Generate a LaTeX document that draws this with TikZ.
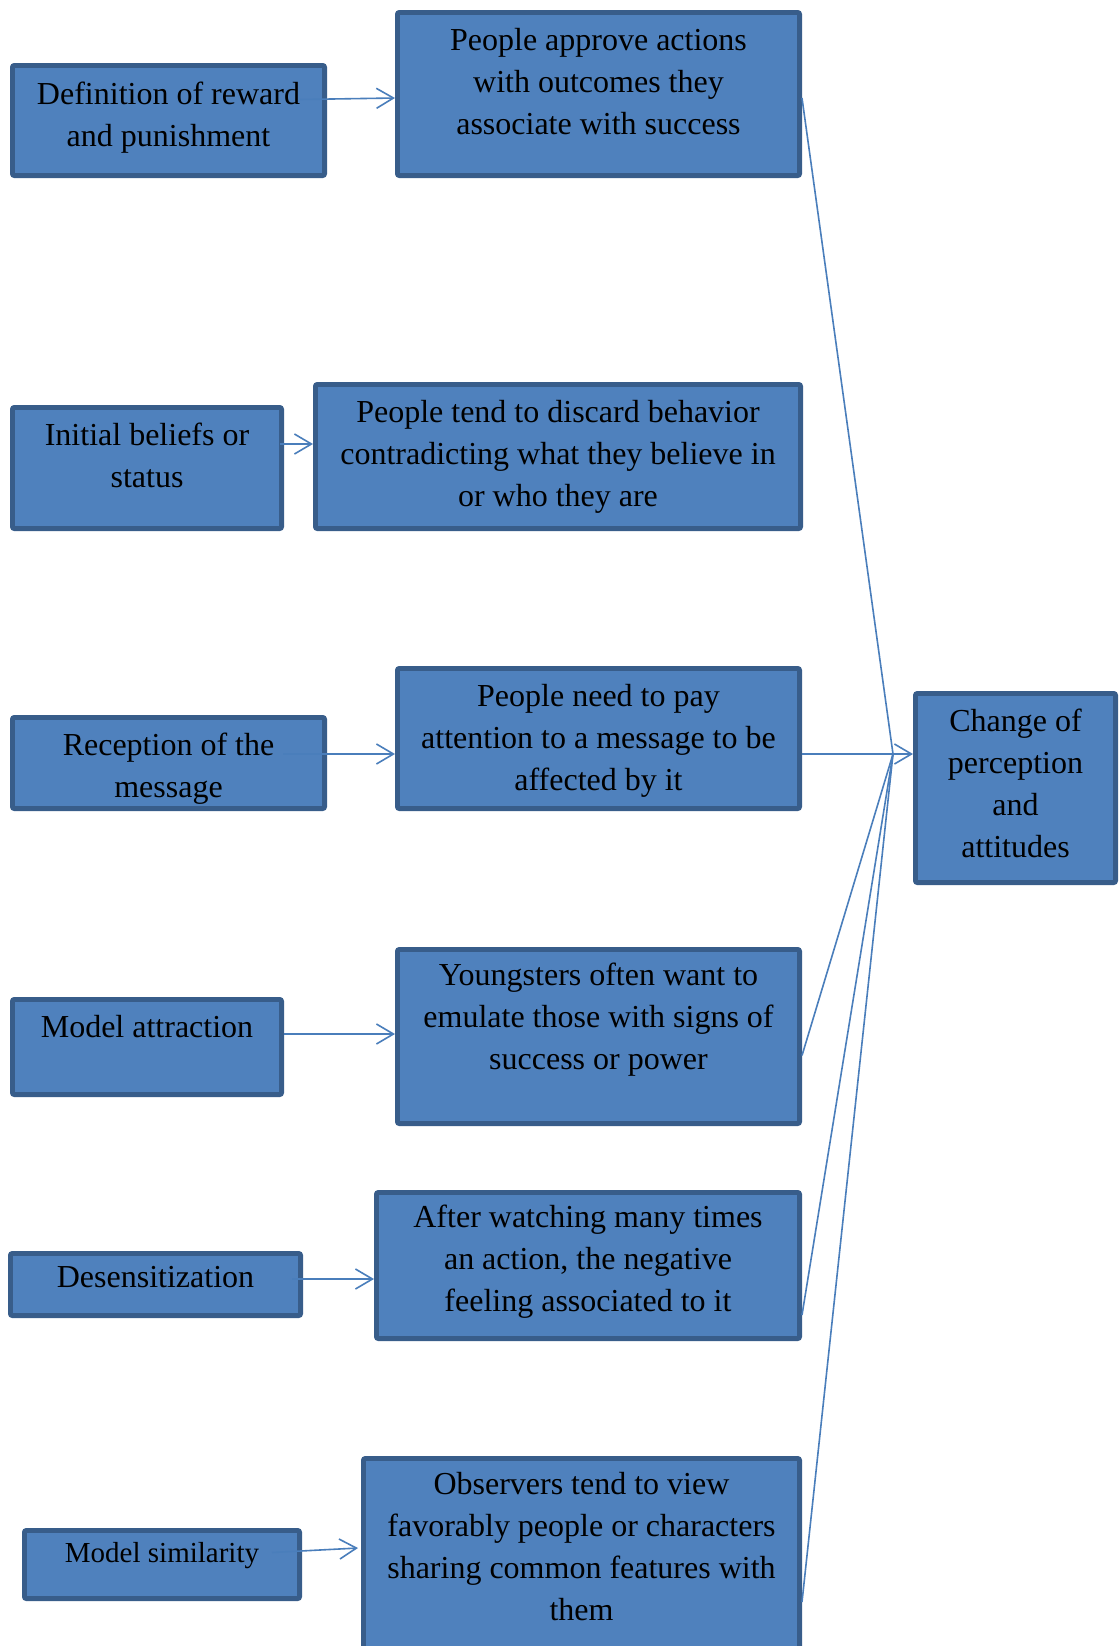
\documentclass[tikz,border=0pt]{standalone}
\usepackage{fontspec}
\setmainfont{Liberation Serif}
\usetikzlibrary{arrows.meta,calc}
\definecolor{boxfill}{HTML}{4F81BD}
\definecolor{boxline}{HTML}{385D8A}
\definecolor{linkc}{HTML}{4A7EBB}
\begin{document}
\begin{tikzpicture}[x=0.75pt,y=-0.75pt,
  box/.style={draw=boxline, fill=boxfill, line width=3.6pt, rounded corners=1.5pt, inner sep=0pt, outer sep=1.8pt},
  txt/.style={font=\fontsize{24}{31.5}\selectfont, align=center, inner sep=0pt, anchor=north, text=black},
  smalltxt/.style={txt, font=\fontsize{21.75}{28.5}\selectfont},
  link/.style={draw=linkc, line width=1.2pt},
  arr/.style={link, -{Straight Barb[length=12.75pt,width=15pt]}}]
\clip (0,0) rectangle (1118,1646);
\fill[white] (0,0) rectangle (1118,1646);

% boxes
\node[box, minimum width=234.15pt, minimum height=82.65pt]  (b1)  at (168.5,120.5) {};
\node[box, minimum width=301.65pt, minimum height=122.4pt]  (b2)  at (598.5,94) {};
\node[box, minimum width=201.9pt,  minimum height=90.9pt]   (b3)  at (147,468) {};
\node[box, minimum width=363.9pt,  minimum height=108.15pt] (b4)  at (558,456.5) {};
\node[box, minimum width=234.15pt, minimum height=68.4pt]   (b5)  at (168.5,763) {};
\node[box, minimum width=301.65pt, minimum height=105.15pt] (b6)  at (598.5,738.5) {};
\node[box, minimum width=201.9pt,  minimum height=71.4pt]   (b7)  at (147,1047) {};
\node[box, minimum width=301.65pt, minimum height=130.65pt] (b8)  at (598.5,1036.5) {};
\node[box, minimum width=217.65pt, minimum height=46.65pt]  (b9)  at (155.5,1284.5) {};
\node[box, minimum width=317.4pt,  minimum height=109.65pt] (b10) at (588,1265.5) {};
\node[box, minimum width=206.4pt,  minimum height=51.15pt]  (b11) at (162,1564.5) {};
\node[box, minimum width=327.15pt, minimum height=164.4pt]  (b12) at (581.5,1568) {};
\node[box, minimum width=150.15pt, minimum height=141.9pt]  (b13) at (1015.5,788) {};

% texts
\node[txt] (t1)  at (168.5,82)   {Definition of reward\\and punishment};
\node[txt] (t2)  at (598.5,28.5) {People approve actions\\with outcomes they\\associate with success};
\node[txt] (t3)  at (147,423)    {Initial beliefs or\\status};
\node[txt] (t4)  at (558,400)    {People tend to discard behavior\\contradicting what they believe in\\or who they are};
\node[txt] (t5)  at (168.5,733)  {Reception of the\\message};
\node[txt] (t6)  at (598.5,684.5){People need to pay\\attention to a message to be\\affected by it};
\node[txt] (t7)  at (147,1015)   {Model attraction};
\node[txt] (t8)  at (598.5,962.7){Youngsters often want to\\emulate those with signs of\\success or power};
\node[txt] (t9)  at (155.5,1266) {Desensitization};
\node[txt] (t10) at (588,1205)   {After watching many times\\an action, the negative\\feeling associated to it};
\node[smalltxt] (t11) at (162,1542) {Model similarity};
\node[txt] (t12) at (581.5,1472) {Observers tend to view\\favorably people or characters\\sharing common features with\\them};
\node[txt] (t13) at (1015.5,709) {Change of\\perception\\and\\attitudes};

% left arrows
\draw[arr] ($(b1.east)+(-27,-21)$)  -- ($(b2.west)+(0,4)$);
\draw[arr] ($(b3.east)+(-4,-24)$)   -- ($(b4.west)+(0,-12.5)$);
\draw[arr] ($(b5.east)+(-44,-9)$)   -- ($(b6.west)+(0,15.5)$);
\draw[arr] ($(b7.east)+(0,-13)$)    -- ($(b8.west)+(0,-2.5)$);
\draw[arr] ($(b9.east)+(-11,-5.5)$) -- ($(b10.west)+(0,13.5)$);
\draw[arr] ($(b11.east)+(-30,-12)$) -- ($(b12.west)+(-3,-20)$);

% converging connectors
\coordinate (conv) at (893,754);
\draw[link] ($(b2.east)+(0,4)$)     -- (conv);
\draw[link] ($(b8.east)+(0,19)$)    -- (conv);
\draw[link] ($(b10.east)+(0,49.5)$) -- (conv);
\draw[link] ($(b12.east)+(0,34)$)   -- (conv);
\draw[arr]  ($(b6.east)+(0,15.5)$)  -- (b13.west |- conv);
\end{tikzpicture}
\end{document}
